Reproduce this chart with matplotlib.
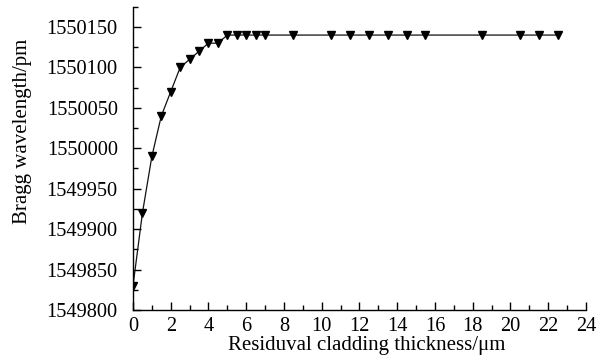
import matplotlib.pyplot as plt
from matplotlib.ticker import MultipleLocator

plt.rcParams['font.family'] = ['Liberation Serif', 'DejaVu Serif']

# Bragg wavelength vs residual cladding thickness
thickness = [0.0, 0.5, 1.0, 1.5, 2.0, 2.5, 3.0, 3.5, 4.0, 4.5,
             5.0, 5.5, 6.0, 6.5, 7.0, 8.5, 10.5, 11.5, 12.5, 13.5,
             14.5, 15.5, 18.5, 20.5, 21.5, 22.5]
wavelength = [1549830, 1549920, 1549990, 1550040, 1550070, 1550100,
              1550110, 1550120, 1550130, 1550130, 1550140, 1550140,
              1550140, 1550140, 1550140, 1550140, 1550140, 1550140,
              1550140, 1550140, 1550140, 1550140, 1550140, 1550140,
              1550140, 1550140]

fig = plt.figure(figsize=(6.04, 3.56), dpi=100)
ax = fig.add_axes([0.2202, 0.1292, 0.7498, 0.8518])

ax.plot(thickness, wavelength, color='#111111', linewidth=0.9,
        marker='v', markersize=5.5, markerfacecolor='black',
        markeredgecolor='black')

ax.set_xlim(0, 24)
ax.set_ylim(1549800, 1550175)
ax.xaxis.set_major_locator(MultipleLocator(2))
ax.xaxis.set_minor_locator(MultipleLocator(1))
ax.yaxis.set_major_locator(MultipleLocator(50))
ax.yaxis.set_minor_locator(MultipleLocator(25))
ax.ticklabel_format(useOffset=False, style='plain', axis='y')

for side in ('top', 'right'):
    ax.spines[side].set_visible(False)
for side in ('left', 'bottom'):
    ax.spines[side].set_linewidth(1.0)

ax.tick_params(which='major', direction='in', length=6, width=1.0,
               labelsize=14.7)
ax.tick_params(axis='y', which='major', pad=11)
ax.tick_params(axis='x', which='major', pad=5)
ax.tick_params(which='minor', direction='in', length=3.5, width=1.0)

ax.set_xlabel('Residuval cladding thickness/\u03bcm', fontsize=15)
ax.xaxis.set_label_coords(0.515, -0.085)
ax.set_ylabel('Bragg wavelength/pm', fontsize=15)
ax.yaxis.set_label_coords(-0.222, 0.59)

fig.savefig('out.png', dpi=100)
